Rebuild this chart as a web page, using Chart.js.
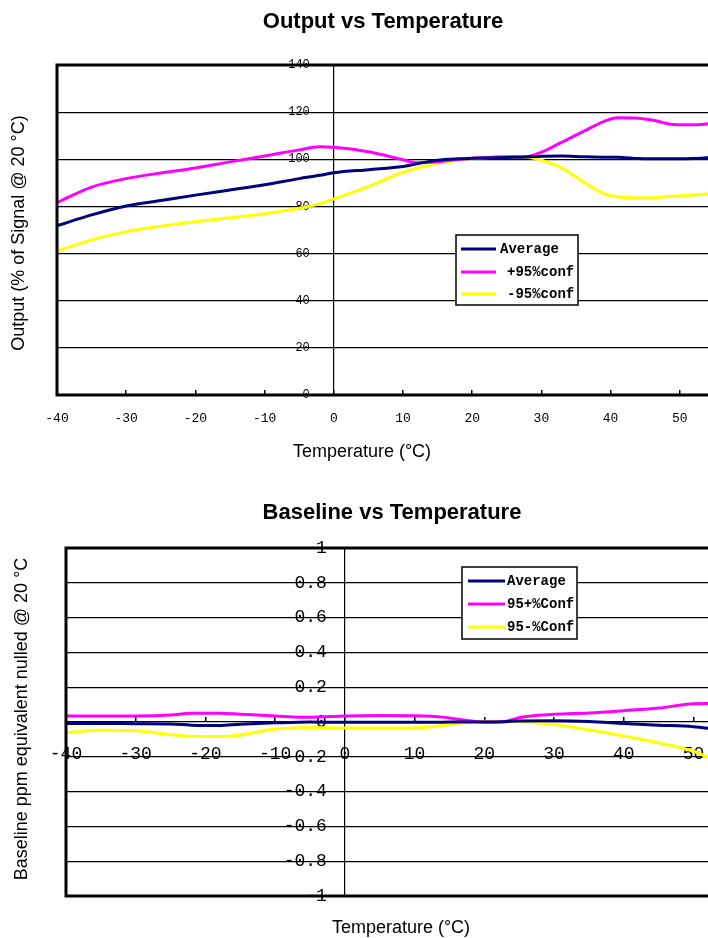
<!DOCTYPE html>
<html><head><meta charset="utf-8">
<script src="https://cdn.jsdelivr.net/npm/chart.js@4.4.0/dist/chart.umd.min.js"></script>
<style>
html,body{margin:0;padding:0;background:#fff;overflow:hidden;width:708px;height:938px;}
#w1{position:absolute;left:0;top:0;width:780px;height:470px;}
#w2{position:absolute;left:0;top:470px;width:800px;height:468px;}
</style></head><body>
<div id="w1"><canvas id="c1"></canvas></div>
<div id="w2"><canvas id="c2"></canvas></div>
<script>
// ---- Output vs Temperature ----
const outputTemps   = [-40,-35,-30,-25,-20,-15,-10,-5,-2,0,5,10,12,15,18,20,25,28,30,33,36,39,41,44,46,49,52,56];
const outputAverage = [71.8,76.4,80.2,82.5,84.8,87.0,89.2,91.8,93.2,94.3,95.6,96.9,98.1,99.6,100.2,100.4,100.8,101.0,101.3,101.4,101.1,100.9,100.9,100.3,100.2,100.2,100.3,101.2];
const outputPlus95  = [81.6,88.2,91.8,94.2,96.3,98.9,101.4,104.0,105.3,105.1,103.2,99.8,98.5,98.9,100.0,100.4,101.1,101.2,103.0,107.3,111.7,116.0,117.6,117.4,116.7,114.8,114.6,115.6];
const outputMinus95 = [61.1,65.8,69.3,71.6,73.5,75.2,76.9,79.2,81.2,83.2,88.4,94.5,96.2,98.3,99.6,100.3,101.0,100.9,99.6,96.2,90.6,85.4,84.1,83.6,83.7,84.3,84.8,85.6];
const outputLabels  = ['Average','+95%conf','-95%conf'];

// ---- Baseline vs Temperature ----
const baseTemps   = [-40,-35,-30,-25,-22,-18,-15,-10,-5,0,5,10,14,17,20,23,25,30,35,40,45,50,53];
const baseAverage = [-0.008,-0.008,-0.010,-0.012,-0.018,-0.020,-0.013,-0.005,0.000,-0.002,-0.002,-0.002,-0.001,0.000,0.000,0.002,0.006,0.007,0.003,-0.008,-0.018,-0.027,-0.040];
const basePlus95  = [0.035,0.035,0.035,0.040,0.050,0.050,0.045,0.035,0.027,0.035,0.038,0.036,0.028,0.012,0.000,0.003,0.025,0.044,0.052,0.065,0.080,0.105,0.107];
const baseMinus95 = [-0.061,-0.047,-0.050,-0.072,-0.082,-0.084,-0.075,-0.040,-0.031,-0.034,-0.034,-0.034,-0.020,-0.005,0.004,0.005,0.002,-0.015,-0.045,-0.080,-0.120,-0.168,-0.220];
const baseLabels  = ['Average','95+%Conf','95-%Conf'];

const xTicksTemp = [-40,-30,-20,-10,0,10,20,30,40,50,60];

const NAVY='#000080', MAG='#FF00FF', YEL='#FFFF00';
function pts(xs, ys){ return xs.map((x,i)=>({x:x, y:ys[i]})); }
function ds(label, xs, ys, color){
  return {label:label, data:pts(xs,ys), borderColor:color, backgroundColor:color,
          borderWidth:3, pointRadius:0, cubicInterpolationMode:'monotone', fill:false};
}

// shift y-axis tick labels left of a centred axis (padding is not applied for centred axes)
function shiftLabels(dx){
  return function(scale){
    if (scale.__shifted) return;
    scale.__shifted = true;
    const orig = scale._computeLabelItems;
    if (typeof orig !== 'function') return;
    scale._computeLabelItems = function(ca){
      const items = orig.call(this, ca);
      items.forEach(it=>{ if (it.options && it.options.translation) it.options.translation[0] -= dx; });
      return items;
    };
  };
}

const framePlugin = {
  id:'frame',
  afterDraw(chart){
    const a = chart.chartArea, ctx = chart.ctx;
    ctx.save();
    ctx.strokeStyle='#000'; ctx.lineWidth=3;
    ctx.strokeRect(a.left, a.top, a.right-a.left, a.bottom-a.top);
    ctx.restore();
  }
};

function textPlugin(cfg){
  return {
    id:'texts',
    afterDraw(chart){
      const ctx = chart.ctx;
      ctx.save();
      ctx.fillStyle='#000';
      ctx.font='bold 22px "Liberation Sans", Arial, sans-serif';
      ctx.textAlign='center'; ctx.textBaseline='middle';
      ctx.fillText(cfg.title, cfg.titleX, cfg.titleY);
      ctx.font='18px "Liberation Sans", Arial, sans-serif';
      ctx.fillText(cfg.xTitle, cfg.xTitleX, cfg.xTitleY);
      ctx.save();
      ctx.translate(cfg.yTitleX, cfg.yTitleY);
      ctx.rotate(-Math.PI/2);
      ctx.fillText(cfg.yTitle, 0, 0);
      ctx.restore();
      const L = cfg.legend;
      ctx.fillStyle='#fff';
      ctx.fillRect(L.x, L.y, L.w, L.h);
      ctx.strokeStyle='#000'; ctx.lineWidth=1.5;
      ctx.strokeRect(L.x, L.y, L.w, L.h);
      ctx.font='bold 14px "Liberation Mono", "DejaVu Sans Mono", monospace';
      ctx.textAlign='left'; ctx.textBaseline='middle';
      chart.data.datasets.forEach((d,i)=>{
        const yy = L.rowY[i];
        ctx.strokeStyle=d.borderColor; ctx.lineWidth=3;
        ctx.beginPath(); ctx.moveTo(L.lineX0, yy); ctx.lineTo(L.lineX1, yy); ctx.stroke();
        ctx.fillStyle='#000';
        ctx.fillText(d.label, L.textX[i], yy);
      });
      ctx.restore();
    }
  };
}

const monoFont = '"Liberation Mono", "DejaVu Sans Mono", monospace';

new Chart(document.getElementById('c1'), {
  type:'line',
  data:{datasets:[
    ds(outputLabels[0], outputTemps, outputAverage, NAVY),
    ds(outputLabels[1], outputTemps, outputPlus95, MAG),
    ds(outputLabels[2], outputTemps, outputMinus95, YEL)
  ]},
  options:{
    responsive:true, maintainAspectRatio:false, animation:false, devicePixelRatio:1,
    layout:{padding:{left:57, top:65, right:31, bottom:75}},
    plugins:{legend:{display:false}, title:{display:false}, tooltip:{enabled:false}},
    scales:{
      x:{type:'linear', min:-40, max:60, position:{y:0},
         afterBuildTicks(s){ s.ticks = xTicksTemp.map(v=>({value:v})); },
         ticks:{font:{family:monoFont, size:13}, color:'#000', padding:21, maxRotation:0, autoSkip:false},
         grid:{drawOnChartArea:false, drawTicks:true, tickLength:-5, color:'#000', lineWidth:1.5},
         border:{display:false}},
      y:{type:'linear', min:0, max:140, position:{x:0},
         afterUpdate: shiftLabels(24),
         ticks:{stepSize:20, font:{family:monoFont, size:12}, color:'#000', padding:0},
         grid:{color:'#000', lineWidth:1.2, drawTicks:false},
         border:{display:true, color:'#000', width:1.2}}
    }
  },
  plugins:[framePlugin, textPlugin({
    title:'Output vs Temperature', titleX:383, titleY:22,
    xTitle:'Temperature (\u00B0C)', xTitleX:362, xTitleY:452,
    yTitle:'Output (% of Signal @ 20 \u00B0C)', yTitleX:19, yTitleY:233,
    legend:{x:456, y:235, w:122, h:70, rowY:[249,272,294], lineX0:461, lineX1:496, textX:[500,507,507]}
  })]
});

new Chart(document.getElementById('c2'), {
  type:'line',
  data:{datasets:[
    ds(baseLabels[0], baseTemps, baseAverage, NAVY),
    ds(baseLabels[1], baseTemps, basePlus95, MAG),
    ds(baseLabels[2], baseTemps, baseMinus95, YEL)
  ]},
  options:{
    responsive:true, maintainAspectRatio:false, animation:false, devicePixelRatio:1,
    layout:{padding:{left:66, top:78, right:35, bottom:42}},
    plugins:{legend:{display:false}, title:{display:false}, tooltip:{enabled:false}},
    scales:{
      x:{type:'linear', min:-40, max:60, position:{y:0},
         afterBuildTicks(s){ s.ticks = xTicksTemp.map(v=>({value:v})); },
         ticks:{font:{family:monoFont, size:18}, color:'#000', padding:26, maxRotation:0, autoSkip:false},
         grid:{drawOnChartArea:false, drawTicks:true, tickLength:-5, color:'#000', lineWidth:1.5},
         border:{display:false}},
      y:{type:'linear', min:-1, max:1, position:{x:0},
         afterUpdate: shiftLabels(18),
         ticks:{stepSize:0.2, font:{family:monoFont, size:18}, color:'#000', padding:0,
                callback:(v)=>String(Math.round(v*10)/10)},
         grid:{color:'#000', lineWidth:1.2, drawTicks:false},
         border:{display:true, color:'#000', width:1.2}}
    }
  },
  plugins:[framePlugin, textPlugin({
    title:'Baseline vs Temperature', titleX:392, titleY:43,
    xTitle:'Temperature (\u00B0C)', xTitleX:401, xTitleY:458,
    yTitle:'Baseline ppm equivalent nulled @ 20 \u00B0C', yTitleX:22, yTitleY:249,
    legend:{x:462, y:97, w:115, h:72, rowY:[111,134,157], lineX0:468, lineX1:505, textX:[507,507,507]}
  })]
});
</script>
</body></html>
